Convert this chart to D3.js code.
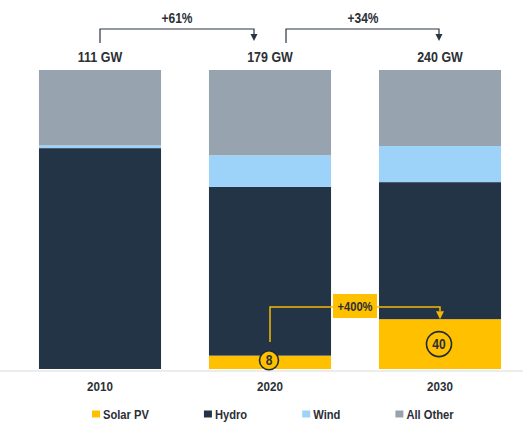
<!DOCTYPE html>
<html>
<head>
<meta charset="utf-8">
<script src="https://cdn.jsdelivr.net/npm/d3@7"></script>
<style>
body{margin:0;background:#fff;}
text{font-family:"Liberation Sans",Arial,sans-serif;font-weight:bold;fill:#2b2f36;}
</style>
</head>
<body>
<script>
window.onload = function(){

let years = ["2010", "2020", "2030"];
let series = ["Solar PV", "Hydro", "Wind", "All Other"];
let solar = [0, 8, 40];
let hydro = [82, 101, 110];
let wind = [1, 19, 29];
let other = [28, 51, 61];
let totals = [111, 179, 240];
let growth = ["+61%", "+34%"];
let solarGrowth = "+400%";
let colors = ["#FFC000", "#243447", "#9DD3F9", "#97A3AE"];

let width = 523,
	height = 424;

let narrow = 0.86; // fake a condensed face

let svg = d3.select("body").append("svg").attr("width", width).attr("height", height);

function label(parent, px, py, txt, size, anchor){
	return parent.append("text")
		.attr("transform", "translate(" + px + "," + py + ") scale(" + narrow + ",1)")
		.attr("text-anchor", anchor || "middle")
		.attr("font-size", size)
		.text(txt);
}

let rows = years.map(function(y, i){
	return {year: y, "Solar PV": solar[i], "Hydro": hydro[i], "Wind": wind[i], "All Other": other[i]};
});

let stack = d3.stack().keys(series).offset(d3.stackOffsetExpand);
let layers = stack(rows);

let x = d3.scaleBand().domain(years).range([15, 525]).paddingInner(0.282).paddingOuter(0.141);
let y = d3.scaleLinear().domain([0, 1]).range([369, 70]);
let color = d3.scaleOrdinal(series, colors);

let cx = function(yr){ return x(yr) + x.bandwidth() / 2; };

// baseline
svg.append("line").attr("x1", 0).attr("x2", width).attr("y1", 371).attr("y2", 371)
	.attr("stroke", "#e6e6e6").attr("stroke-width", 1.5);

svg.append("g").selectAll("g")
	.data(layers)
	.join("g")
	.attr("fill", d => color(d.key))
	.selectAll("rect")
	.data(d => d)
	.join("rect")
	.attr("x", d => x(d.data.year))
	.attr("width", x.bandwidth())
	.attr("y", d => y(d[1]))
	.attr("height", d => y(d[0]) - y(d[1]));

// totals + category labels
years.forEach(function(yr, i){
	label(svg, cx(yr), 62, totals[i] + " GW", 14.5);
	label(svg, cx(yr), 391, yr, 13.5);
});

// growth brackets
let dark = "#2b3442";
growth.forEach(function(g, i){
	let x0 = cx(years[i]) + (i == 0 ? 0 : 16);
	let x1 = cx(years[i + 1]) - (i == 0 ? 16 : 1);
	svg.append("path")
		.attr("d", "M" + x0 + ",43V29H" + x1 + "V35")
		.attr("fill", "none").attr("stroke", dark).attr("stroke-width", 1.2);
	svg.append("path")
		.attr("d", "M" + (x1 - 3.5) + ",34L" + (x1 + 3.5) + ",34L" + x1 + ",41Z")
		.attr("fill", dark);
	label(svg, (cx(years[i]) + cx(years[i + 1])) / 2 - (i == 0 ? 8 : -8), 22.5, g, 14);
});

// solar annotation
let yellow = "#F5B800";
let solarLayer = layers[0];
let a = cx(years[1]), b = cx(years[2]);
let topB = y(solarLayer[2][1]);
svg.append("path")
	.attr("d", "M" + a + ",342V307H" + b + "V" + (topB - 8))
	.attr("fill", "none").attr("stroke", yellow).attr("stroke-width", 1.5);
svg.append("path")
	.attr("d", "M" + (b - 4) + "," + (topB - 8) + "L" + (b + 4) + "," + (topB - 8) + "L" + b + "," + topB + "Z")
	.attr("fill", yellow);
svg.append("rect")
	.attr("x", (a + b) / 2 - 22).attr("y", 294).attr("width", 44).attr("height", 24)
	.attr("fill", "#FFC000");
label(svg, (a + b) / 2, 311, solarGrowth, 13);

// circled solar values
[1, 2].forEach(function(i){
	let d = solarLayer[i];
	let lab = String(solar[i]);
	let r = lab.length > 1 ? 12.5 : 9.5;
	let cyv = (y(d[0]) + y(d[1])) / 2 - (lab.length > 1 ? 0 : 2);
	svg.append("circle")
		.attr("cx", cx(years[i]) - 1).attr("cy", cyv).attr("r", r)
		.attr("fill", "#FFC000").attr("stroke", "#1f2a36").attr("stroke-width", 1.6);
	label(svg, cx(years[i]) - 1, cyv + 5, lab, 14);
});

// legend
let legend = svg.append("g").attr("transform", "translate(92,414)");
let lx = 0;
series.forEach(function(s){
	let g = legend.append("g").attr("transform", "translate(" + lx + ",0)");
	g.append("rect").attr("x", 0).attr("y", -3.5).attr("width", 8).attr("height", 7).attr("fill", color(s));
	let t = label(g, 11, 5, s, 13, "start");
	lx += 11 + t.node().getComputedTextLength() * narrow + 55;
});

};
</script>
</body>
</html>
